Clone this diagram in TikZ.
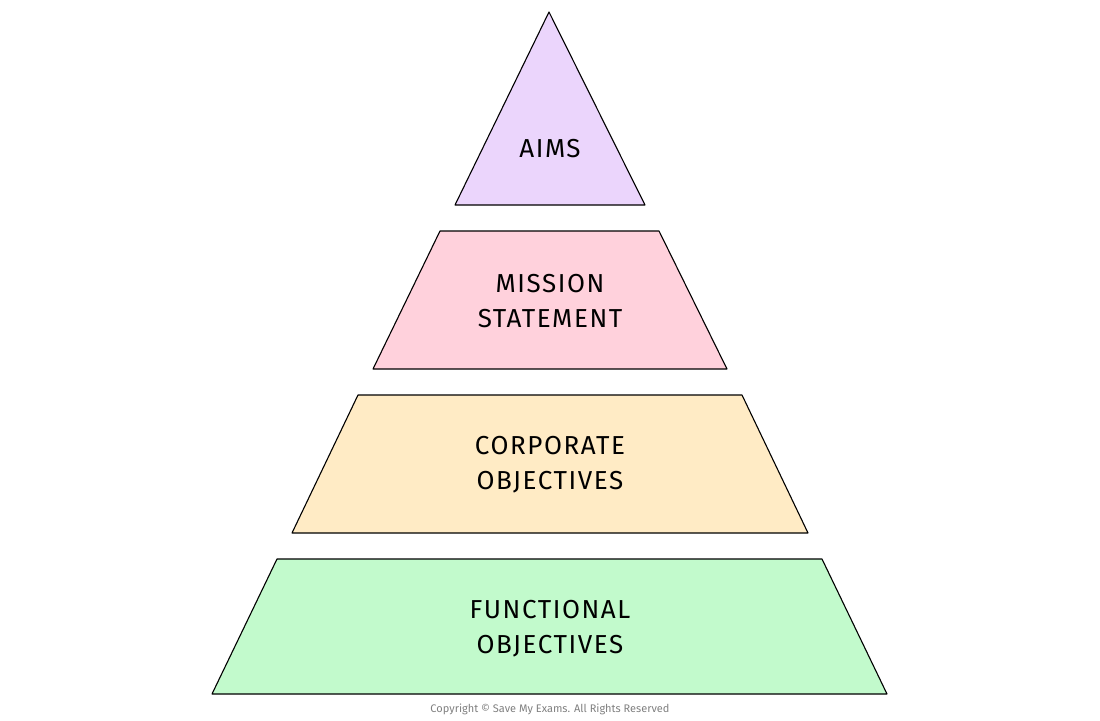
\documentclass[tikz,border=0pt]{standalone}
\usepackage{fontspec}
\setmainfont{Fira Sans}
\begin{document}
\begin{tikzpicture}[x=1pt,y=-1pt,
  tier/.style={draw=black,line width=1.1pt,line join=round},
  lbl/.style={align=center,font=\fontsize{26}{35}\selectfont\addfontfeatures{LetterSpace=6}}]
\useasboundingbox (0,0) rectangle (1100,720);
\definecolor{cA}{HTML}{EBD5FC}\definecolor{cB}{HTML}{FFD1DC}
\definecolor{cC}{HTML}{FFEBC5}\definecolor{cD}{HTML}{C2FACC}
\draw[tier,fill=cA] (549,12) -- (645,205) -- (455,205) -- cycle;
\draw[tier,fill=cB] (440,231) -- (659,231) -- (727,369) -- (373,369) -- cycle;
\draw[tier,fill=cC] (358,395) -- (742,395) -- (808,533) -- (292,533) -- cycle;
\draw[tier,fill=cD] (277,559) -- (822,559) -- (887,694) -- (212,694) -- cycle;
\node[lbl] (a) at (550,149) {AIMS};
\node[lbl] (b) at (550,301) {MISSION\\STATEMENT};
\node[lbl] (c) at (550,465) {CORPORATE\\OBJECTIVES};
\node[lbl] (d) at (550,629) {FUNCTIONAL\\OBJECTIVES};
\node[text=gray,font=\fontsize{11}{12}\selectfont] (cp) at (550,709) {Copyright © Save My Exams. All Rights Reserved};
\end{tikzpicture}
\end{document}
